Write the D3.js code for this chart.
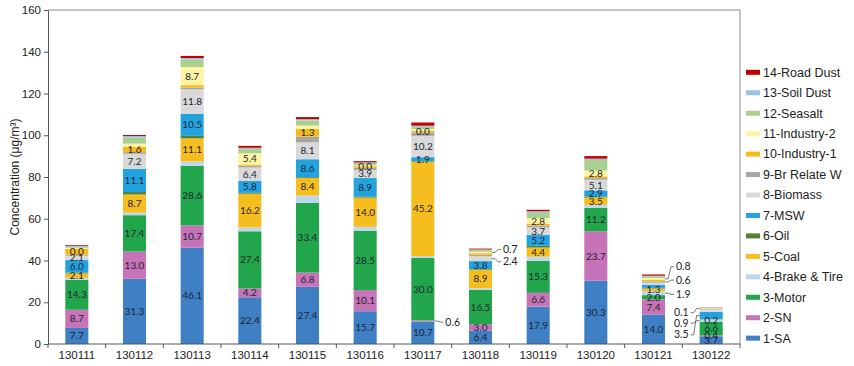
<!DOCTYPE html>
<html>
<head>
<meta charset="utf-8">
<script src="https://cdn.jsdelivr.net/npm/d3@7"></script>
<style>
  body { margin: 0; background: #fff; }
  svg { display: block; }
  .tick text { font-family: "Liberation Sans", Arial, sans-serif; fill: #222; }
</style>
</head>
<body>
<svg id="chart"></svg>
<script>
// sampling dates
const dates = ['130111', '130112', '130113', '130114', '130115', '130116',
               '130117', '130118', '130119', '130120', '130121', '130122']

const sources = ['1-SA', '2-SN', '3-Motor', '4-Brake & Tire', '5-Coal', '6-Oil', '7-MSW',
                 '8-Biomass', '9-Br Relate W', '10-Industry-1', '11-Industry-2',
                 '12-Seasalt', '13-Soil Dust', '14-Road Dust']

const colors = ['#3f7fc3', '#c673b7', '#22a64b', '#bdd7ee', '#f6bd1f', '#548235', '#23a2e0',
                '#d9d9d9', '#a6a6a6', '#f7bb1e', '#fff4a3', '#a9d18e', '#9dc3e6', '#c00000']

// concentration per source, one value per date
const sa      = [7.7, 31.3, 46.1, 22.4, 27.4, 15.7, 10.7, 6.4, 17.9, 30.3, 14.0, 3.7]
const sn      = [8.7, 13.0, 10.7, 4.2, 6.8, 10.1, 0.6, 3.0, 6.6, 23.7, 7.4, 0.4]
const motor   = [14.3, 17.4, 28.6, 27.4, 33.4, 28.5, 30.0, 16.5, 15.3, 11.2, 2.0, 6.6]
const brake   = [1.0, 1.2, 2.0, 1.8, 3.5, 1.8, 0.8, 0.8, 2.0, 1.5, 1.9, 0.9]
const coal    = [2.1, 8.7, 11.1, 16.2, 8.4, 14.0, 45.2, 8.9, 4.4, 3.5, 1.3, 0.2]
const oil     = [0.4, 1.2, 1.2, 0.4, 0.4, 0.5, 0.3, 0.3, 0.8, 0.5, 0.3, 0.1]
const msw     = [6.0, 11.1, 10.5, 5.8, 8.6, 8.9, 1.9, 3.8, 5.2, 2.9, 1.5, 3.5]
const biomass = [2.1, 7.2, 11.8, 6.4, 8.1, 3.9, 10.2, 2.4, 3.7, 5.1, 1.0, 1.2]
const brw     = [0.5, 0.8, 0.8, 0.8, 2.7, 1.0, 1.5, 0.6, 0.8, 0.8, 0.6, 0.3]
const ind1    = [2.8, 2.5, 1.2, 0.6, 3.8, 0.8, 1.0, 0.8, 0.8, 0.8, 0.8, 0.1]
const ind2    = [0.5, 1.6, 8.7, 5.4, 1.5, 0.5, 0.8, 0.7, 2.8, 2.8, 0.8, 0.1]
const seasalt = [0.5, 2.8, 3.5, 2.0, 2.5, 1.0, 1.0, 0.8, 2.5, 5.0, 0.8, 0.2]
const soil    = [0.3, 0.8, 0.8, 0.6, 0.6, 0.3, 0.6, 0.3, 0.8, 0.7, 0.3, 0.1]
const road    = [0.4, 0.5, 1.0, 0.9, 1.0, 0.6, 1.5, 0.4, 0.7, 1.2, 0.6, 0.1]

const seriesValues = [sa, sn, motor, brake, coal, oil, msw, biomass, brw, ind1, ind2, seasalt, soil, road]

// text printed inside the bars: [date, source index, text]
const barLabels = [
  ['130111', 0, '7.7'], ['130111', 1, '8.7'], ['130111', 2, '14.3'], ['130111', 4, '2.1'],
  ['130111', 6, '6.0'], ['130111', 7, '2.1'], ['130111', 9, '0.0'],
  ['130112', 0, '31.3'], ['130112', 1, '13.0'], ['130112', 2, '17.4'], ['130112', 4, '8.7'],
  ['130112', 6, '11.1'], ['130112', 7, '7.2'], ['130112', 9, '1.6'],
  ['130113', 0, '46.1'], ['130113', 1, '10.7'], ['130113', 2, '28.6'], ['130113', 4, '11.1'],
  ['130113', 6, '10.5'], ['130113', 7, '11.8'], ['130113', 10, '8.7'],
  ['130114', 0, '22.4'], ['130114', 1, '4.2'], ['130114', 2, '27.4'], ['130114', 4, '16.2'],
  ['130114', 6, '5.8'], ['130114', 7, '6.4'], ['130114', 10, '5.4'],
  ['130115', 0, '27.4'], ['130115', 1, '6.8'], ['130115', 2, '33.4'], ['130115', 4, '8.4'],
  ['130115', 6, '8.6'], ['130115', 7, '8.1'], ['130115', 9, '1.3'],
  ['130116', 0, '15.7'], ['130116', 1, '10.1'], ['130116', 2, '28.5'], ['130116', 4, '14.0'],
  ['130116', 6, '8.9'], ['130116', 7, '3.9'], ['130116', 9, '0.0'],
  ['130117', 0, '10.7'], ['130117', 2, '30.0'], ['130117', 4, '45.2'],
  ['130117', 6, '1.9'], ['130117', 7, '10.2'], ['130117', 9, '0.0'],
  ['130118', 0, '6.4'], ['130118', 1, '3.0'], ['130118', 2, '16.5'], ['130118', 4, '8.9'],
  ['130118', 6, '3.8'],
  ['130119', 0, '17.9'], ['130119', 1, '6.6'], ['130119', 2, '15.3'], ['130119', 4, '4.4'],
  ['130119', 6, '5.2'], ['130119', 7, '3.7'], ['130119', 10, '2.8'],
  ['130120', 0, '30.3'], ['130120', 1, '23.7'], ['130120', 2, '11.2'], ['130120', 4, '3.5'],
  ['130120', 6, '2.9'], ['130120', 7, '5.1'], ['130120', 10, '2.8'],
  ['130121', 0, '14.0'], ['130121', 1, '7.4'], ['130121', 2, '2.0'], ['130121', 4, '1.3'],
  ['130122', 0, '3.7'], ['130122', 1, '0.4'], ['130122', 2, '6.6'], ['130122', 3, '0.2']
]

// small segments labelled outside with a leader: [date, source index, text, side, text level]
const callouts = [
  ['130117', 1, '0.6', 'right', 10.5],
  ['130118', 10, '0.7', 'right', 45.3],
  ['130118', 7, '2.4', 'right', 39.4],
  ['130121', 10, '0.8', 'right', 37.0],
  ['130121', 8, '0.6', 'right', 30.6],
  ['130121', 3, '1.9', 'right', 23.8],
  ['130122', 9, '0.1', 'left', 15.0],
  ['130122', 3, '0.9', 'left', 10.0],
  ['130122', 6, '3.5', 'left', 4.4]
]

const yTicks = [0, 20, 40, 60, 80, 100, 120, 140, 160]

const width = 854, height = 366
const margin = {top: 10, right: 114, bottom: 22, left: 48}
const labelFont = 'Lato, "Open Sans", sans-serif'
const axisFont = '"Liberation Sans", Arial, sans-serif'

const svg = d3.select('#chart')
    .attr('width', width)
    .attr('height', height)

const x = d3.scaleBand()
    .domain(dates)
    .range([margin.left, width - margin.right])
    .paddingInner(0.6)
    .paddingOuter(0.3)

const y = d3.scaleLinear()
    .domain([0, 160])
    .range([height - margin.bottom, margin.top])

// stack the sources per date
let rows = dates.map((d, i) => {
    let row = {date: d}
    sources.forEach((s, j) => { row[s] = seriesValues[j][i] })
    return row
})
let stacked = d3.stack().keys(sources)(rows)

function segment(date, k) {
    let i = dates.indexOf(date)
    return stacked[k][i]
}

// plot frame (top and right)
svg.append('path')
    .attr('d', `M${margin.left},${y(160)}H${width - margin.right}V${y(0)}`)
    .attr('fill', 'none')
    .attr('stroke', '#8c8c8c')
    .attr('stroke-width', 1)

// bars
svg.append('g')
  .selectAll('g')
  .data(stacked)
  .join('g')
    .attr('fill', (d, i) => colors[i])
  .selectAll('rect')
  .data(d => d)
  .join('rect')
    .attr('x', d => x(d.data.date))
    .attr('y', d => y(d[1]))
    .attr('width', x.bandwidth())
    .attr('height', d => Math.max(0, y(d[0]) - y(d[1])))

// labels inside bars
svg.append('g')
    .attr('font-family', labelFont)
    .attr('font-size', 10)
    .attr('fill', '#1c2533')
    .attr('text-anchor', 'middle')
  .selectAll('text')
  .data(barLabels)
  .join('text')
    .attr('x', d => x(d[0]) + x.bandwidth() / 2)
    .attr('y', d => {
        let s = segment(d[0], d[1])
        return y((s[0] + s[1]) / 2)
    })
    .attr('dy', '0.35em')
    .text(d => d[2])

// callouts with leader lines
let co = svg.append('g')
    .attr('font-family', labelFont)
    .attr('font-size', 10.5)
    .attr('fill', '#222')

callouts.forEach(c => {
    let s = segment(c[0], c[1])
    let ySeg = y((s[0] + s[1]) / 2)
    let yTxt = y(c[4])
    let dir = c[3] === 'right' ? 1 : -1
    let x0 = c[3] === 'right' ? x(c[0]) + x.bandwidth() : x(c[0])
    co.append('path')
        .attr('d', `M${x0},${ySeg}h${dir * 3}L${x0 + dir * 6},${yTxt}h${dir * 3}`)
        .attr('fill', 'none')
        .attr('stroke', '#555')
        .attr('stroke-width', 0.8)
    co.append('text')
        .attr('x', x0 + dir * 11)
        .attr('y', yTxt)
        .attr('dy', '0.35em')
        .attr('text-anchor', dir === 1 ? 'start' : 'end')
        .text(c[2])
})

// y axis
svg.append('g')
    .attr('transform', `translate(${margin.left},0)`)
    .call(d3.axisLeft(y).tickValues(yTicks).tickSize(4).tickSizeOuter(0))
    .call(g => g.selectAll('text').attr('font-size', 11.5))
    .call(g => g.selectAll('line, path').attr('stroke', '#555'))

// x axis, ticks between the categories
let bounds = d3.range(dates.length + 1).map(i => margin.left + i * x.step())
let xAxis = svg.append('g')
    .attr('transform', `translate(0,${y(0)})`)
xAxis.append('line')
    .attr('x1', margin.left).attr('x2', width - margin.right)
    .attr('stroke', '#555')
xAxis.selectAll('.sep')
  .data(bounds)
  .join('line')
    .attr('class', 'sep')
    .attr('x1', d => d).attr('x2', d => d)
    .attr('y1', 0).attr('y2', 4)
    .attr('stroke', '#555')
xAxis.selectAll('text')
  .data(dates)
  .join('text')
    .attr('x', d => x(d) + x.bandwidth() / 2)
    .attr('y', 15)
    .attr('text-anchor', 'middle')
    .attr('font-family', axisFont)
    .attr('font-size', 11.5)
    .attr('fill', '#222')
    .text(d => d)

// y title
svg.append('text')
    .attr('transform', `translate(19,${(y(0) + y(160)) / 2}) rotate(-90)`)
    .attr('text-anchor', 'middle')
    .attr('font-family', axisFont)
    .attr('font-size', 12)
    .attr('fill', '#222')
    .text('Concentration (μg/m³)')

// legend, top item is the last source
let legend = svg.append('g')
    .attr('font-family', axisFont)
    .attr('font-size', 12.5)
    .attr('fill', '#222')
  .selectAll('g')
  .data(sources.slice().reverse())
  .join('g')
    .attr('transform', (d, i) => `translate(746,${72.3 + i * 20.45})`)

legend.append('rect')
    .attr('x', 0).attr('y', -2.5)
    .attr('width', 14).attr('height', 5)
    .attr('fill', d => colors[sources.indexOf(d)])

legend.append('text')
    .attr('x', 17)
    .attr('dy', '0.35em')
    .text(d => d)
</script>
</body>
</html>
